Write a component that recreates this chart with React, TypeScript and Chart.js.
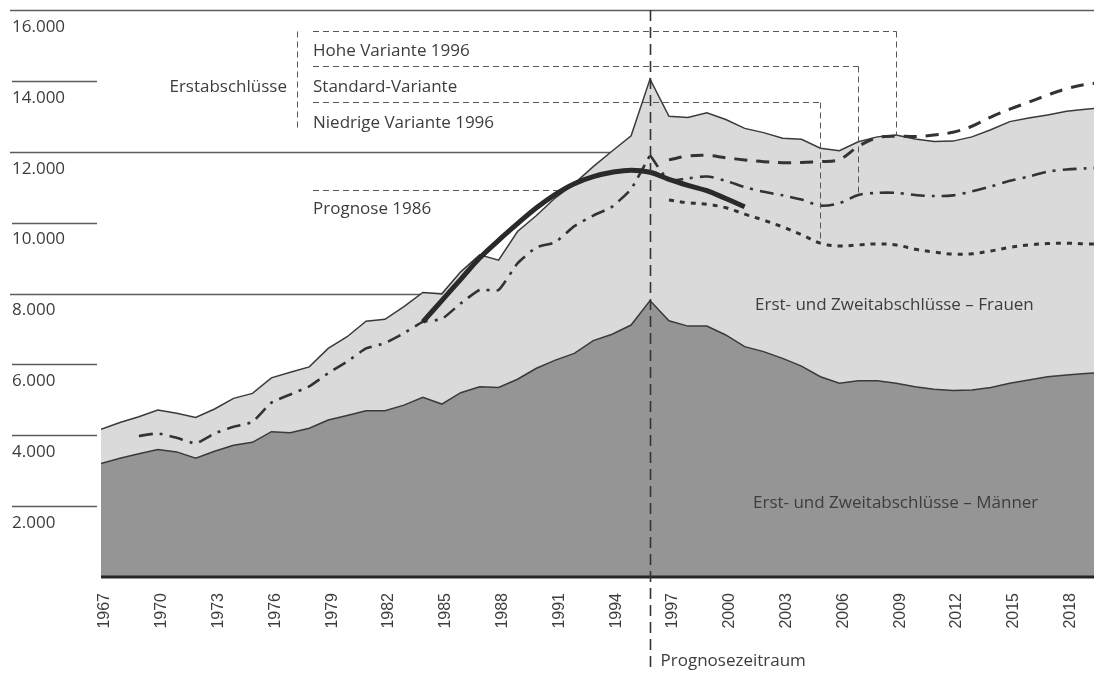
import React, { useEffect, useRef } from "react";
import { Chart, registerables } from "chart.js";

Chart.register(...registerables);

// ---------- data ----------
const FIRST_YEAR = 1967;
const YEARS: number[] = Array.from({ length: 54 }, (_, i) => FIRST_YEAR + i); // 1967..2020

const X_TICKS = [1967, 1970, 1973, 1976, 1979, 1982, 1985, 1988, 1991, 1994, 1997, 2000, 2003, 2006, 2009, 2012, 2015, 2018];
const Y_TICKS = [2000, 4000, 6000, 8000, 10000, 12000, 14000, 16000];
const FULL_GRID = [8000, 12000, 16000];
const SHORT_GRID = [2000, 4000, 6000, 10000, 14000];
const PROGNOSE_START = 1996;

// Erst- und Zweitabschlüsse – Männer (1967–2020)
const MAENNER = [
  3200, 3350, 3480, 3600, 3530, 3350, 3550, 3720, 3800, 4100,
  4070, 4200, 4430, 4560, 4690, 4690, 4850, 5070, 4880, 5200,
  5370, 5350, 5580, 5890, 6120, 6310, 6670, 6850, 7110, 7800,
  7230, 7080, 7080, 6830, 6500, 6360, 6170, 5950, 5650, 5470,
  5540, 5540, 5470, 5370, 5300, 5260, 5280, 5350, 5470, 5560,
  5650, 5700, 5740, 5780,
];

// Erst- und Zweitabschlüsse insgesamt (Männer + Frauen) (1967–2020)
const GESAMT = [
  4170, 4360, 4520, 4710, 4620, 4500, 4740, 5040, 5180, 5620,
  5780, 5930, 6450, 6780, 7220, 7270, 7630, 8030, 7990, 8610,
  9090, 8940, 9750, 10200, 10700, 11100, 11580, 12020, 12450, 14050,
  13000, 12970, 13100, 12910, 12660, 12540, 12380, 12350, 12100, 12030,
  12280, 12420, 12470, 12360, 12290, 12300, 12420, 12620, 12850, 12950,
  13040, 13140, 13200, 13250,
];

// Erstabschlüsse, Ist (1969–1996)
const ERST_IST_START = 1969;
const ERST_IST = [
  3980, 4050, 3930, 3770, 4050, 4240, 4380, 4920, 5150, 5380,
  5750, 6080, 6450, 6600, 6880, 7200, 7280, 7720, 8100, 8100,
  8850, 9300, 9450, 9900, 10200, 10450, 10950, 11900,
];

// Standard-Variante (1996–2020)
const STANDARD_START = 1996;
const STANDARD = [
  11900, 11220, 11250, 11300, 11180, 11000, 10870, 10770, 10650, 10480,
  10550, 10780, 10840, 10840, 10780, 10750, 10770, 10880, 11020, 11180,
  11300, 11440, 11500, 11530, 11550,
];

// Hohe Variante 1996 (1997–2020)
const HOHE_START = 1997;
const HOHE = [
  11770, 11880, 11900, 11830, 11770, 11720, 11690, 11700, 11720, 11780,
  12150, 12400, 12440, 12430, 12470, 12550, 12720, 12980, 13200, 13400,
  13600, 13780, 13900, 13950,
];

// Niedrige Variante 1996 (1997–2020)
const NIEDRIG_START = 1997;
const NIEDRIG = [
  10640, 10560, 10520, 10420, 10240, 10070, 9880, 9660, 9420, 9340,
  9370, 9400, 9370, 9250, 9170, 9110, 9120, 9200, 9300, 9370,
  9410, 9420, 9400, 9400,
];

// Prognose 1986 (1984–2001)
const PROG86_START = 1984;
const PROG86 = [
  7200, 7800, 8400, 9000, 9500, 9970, 10420, 10800, 11100, 11300,
  11420, 11480, 11420, 11220, 11050, 10900, 10680, 10450,
];

// years at which the legend leaders touch the lines
const HOHE_MARK = 2009;
const STANDARD_MARK = 2007;
const NIEDRIG_MARK = 2005;
const PROG86_MARK = 1991.3;

// ---------- helpers ----------
const align = (start: number, values: number[]) =>
  YEARS.map((yr) => {
    const i = yr - start;
    return i >= 0 && i < values.length ? values[i] : null;
  });
const pts = (arr: (number | null)[]) => YEARS.map((yr, i) => ({ x: yr, y: arr[i] }));
const valueAt = (start: number, values: number[], yr: number) => values[yr - start];
const fmt = (v: number) => String(v).replace(/\B(?=(\d{3})+(?!\d))/g, ".");

const INK = "#333333";
const TEXT = "#3d3d3d";
const FONT = '"Open Sans", sans-serif';

const decorBehind = {
  id: "decorBehind",
  beforeDatasetsDraw(chart: any) {
    const { ctx, chartArea } = chart;
    const ys = chart.scales.y;
    const xs = chart.scales.x;
    ctx.save();
    ctx.strokeStyle = "#5c5c5c";
    ctx.lineWidth = 1.3;
    FULL_GRID.forEach((v) => {
      const py = Math.round(ys.getPixelForValue(v)) + 0.5;
      ctx.beginPath();
      ctx.moveTo(10, py);
      ctx.lineTo(chartArea.right, py);
      ctx.stroke();
    });
    SHORT_GRID.forEach((v) => {
      const py = Math.round(ys.getPixelForValue(v)) + 0.5;
      ctx.beginPath();
      ctx.moveTo(12, py);
      ctx.lineTo(97, py);
      ctx.stroke();
    });
    // Prognose 1986 leader
    ctx.strokeStyle = "#555";
    ctx.lineWidth = 1;
    ctx.setLineDash([6, 4]);
    ctx.beginPath();
    ctx.moveTo(313, 190.5);
    ctx.lineTo(xs.getPixelForValue(PROG86_MARK), 190.5);
    ctx.stroke();
    ctx.restore();
  },
};

const decorFront = {
  id: "decorFront",
  afterDatasetsDraw(chart: any) {
    const { ctx, chartArea, height } = chart;
    const ys = chart.scales.y;
    const xs = chart.scales.x;
    ctx.save();
    // base line
    const y0 = ys.getPixelForValue(0);
    ctx.strokeStyle = "#262626";
    ctx.lineWidth = 3;
    ctx.beginPath();
    ctx.moveTo(chartArea.left, y0);
    ctx.lineTo(chartArea.right, y0);
    ctx.stroke();

    // Prognose start line
    const px = Math.round(xs.getPixelForValue(PROGNOSE_START)) + 0.5;
    ctx.strokeStyle = INK;
    ctx.lineWidth = 1.6;
    ctx.setLineDash([11, 6]);
    ctx.beginPath();
    ctx.moveTo(px, ys.getPixelForValue(16000));
    ctx.lineTo(px, height);
    ctx.stroke();

    // legend bracket and leaders
    ctx.strokeStyle = "#555";
    ctx.lineWidth = 1;
    ctx.setLineDash([6, 4]);
    const seg = (x1: number, y1: number, x2: number, y2: number) => {
      ctx.beginPath();
      ctx.moveTo(x1, y1);
      ctx.lineTo(x2, y2);
      ctx.stroke();
    };
    seg(297.5, 31.5, 297.5, 131.5);
    const leader = (yy: number, yr: number, val: number) => {
      const lx = Math.round(xs.getPixelForValue(yr)) + 0.5;
      seg(313, yy, lx, yy);
      seg(lx, yy, lx, ys.getPixelForValue(val));
    };
    leader(31.5, HOHE_MARK, valueAt(HOHE_START, HOHE, HOHE_MARK));
    leader(66.5, STANDARD_MARK, valueAt(STANDARD_START, STANDARD, STANDARD_MARK));
    leader(102.5, NIEDRIG_MARK, valueAt(NIEDRIG_START, NIEDRIG, NIEDRIG_MARK));

    // texts
    ctx.setLineDash([]);
    ctx.fillStyle = TEXT;
    ctx.font = `17px ${FONT}`;
    ctx.textBaseline = "middle";
    ctx.textAlign = "right";
    ctx.fillText("Erstabschlüsse", 287, 87);
    ctx.textAlign = "left";
    ctx.fillText("Hohe Variante 1996", 313, 51);
    ctx.fillText("Standard-Variante", 313, 87);
    ctx.fillText("Niedrige Variante 1996", 313, 123);
    ctx.fillText("Prognose 1986", 313, 209);
    ctx.fillText("Erst- und Zweitabschlüsse – Frauen", 755, 305);
    ctx.fillText("Erst- und Zweitabschlüsse – Männer", 753, 503);
    ctx.fillText("Prognosezeitraum", px + 10, 661);
    ctx.restore();
  },
};

export default function App() {
  const ref = useRef<HTMLCanvasElement | null>(null);

  useEffect(() => {
    if (!ref.current) return;
    const lineBase = { pointRadius: 0, pointHoverRadius: 0, fill: false, spanGaps: false };
    const chart = new Chart(ref.current, {
      type: "line",
      data: {
        datasets: [
          {
            ...lineBase,
            label: "Prognose 1986",
            data: pts(align(PROG86_START, PROG86)),
            borderColor: "#2a2a2a",
            borderWidth: 5,
            tension: 0.4,
            order: 1,
          },
          {
            ...lineBase,
            label: "Hohe Variante 1996",
            data: pts(align(HOHE_START, HOHE)),
            borderColor: INK,
            borderWidth: 3,
            borderDash: [13, 9],
            tension: 0.35,
            order: 2,
          },
          {
            ...lineBase,
            label: "Standard-Variante",
            data: pts(align(STANDARD_START, STANDARD)),
            borderColor: INK,
            borderWidth: 2.6,
            borderDash: [14, 7, 3, 7],
            tension: 0.3,
            order: 2,
          },
          {
            ...lineBase,
            label: "Niedrige Variante 1996",
            data: pts(align(NIEDRIG_START, NIEDRIG)),
            borderColor: INK,
            borderWidth: 3,
            borderDash: [5, 6],
            tension: 0.35,
            order: 2,
          },
          {
            ...lineBase,
            label: "Erstabschlüsse",
            data: pts(align(ERST_IST_START, ERST_IST)),
            borderColor: INK,
            borderWidth: 2.6,
            borderDash: [14, 7, 3, 7],
            tension: 0.15,
            order: 2,
          },
          {
            label: "Erst- und Zweitabschlüsse – Männer",
            data: pts(MAENNER),
            borderColor: "#3a3a3a",
            borderWidth: 1.5,
            backgroundColor: "#959595",
            fill: "origin",
            pointRadius: 0,
            tension: 0,
            order: 5,
          },
          {
            label: "Erst- und Zweitabschlüsse – Frauen",
            data: pts(GESAMT),
            borderColor: "#3a3a3a",
            borderWidth: 1.5,
            backgroundColor: "#dadada",
            fill: "origin",
            pointRadius: 0,
            tension: 0,
            order: 6,
          },
        ],
      },
      options: {
        animation: false,
        responsive: false,
        devicePixelRatio: 1,
        layout: { padding: { top: 10, left: 12, right: 0, bottom: 0 } },
        plugins: { legend: { display: false }, tooltip: { enabled: false } },
        events: [],
        scales: {
          x: {
            type: "linear",
            min: FIRST_YEAR,
            max: 2019.45,
            afterBuildTicks: (s: any) => {
              s.ticks = X_TICKS.map((v) => ({ value: v }));
            },
            afterFit: (s: any) => {
              s.height = 96;
              s.paddingLeft = 0;
              s.paddingRight = 0;
            },
            ticks: {
              autoSkip: false,
              minRotation: 90,
              maxRotation: 90,
              padding: 16,
              labelOffset: 4,
              color: TEXT,
              font: { family: '"Liberation Sans", Arial, sans-serif', size: 16 },
              callback: (v: any) => String(v),
            },
            grid: { display: false, drawTicks: false },
            border: { display: false },
          },
          y: {
            type: "linear",
            min: 0,
            max: 16000,
            afterBuildTicks: (s: any) => {
              s.ticks = Y_TICKS.map((v) => ({ value: v }));
            },
            afterFit: (s: any) => {
              s.width = 89;
              s.paddingTop = 0;
              s.paddingBottom = 0;
            },
            ticks: {
              crossAlign: "far",
              labelOffset: 17,
              padding: 0,
              color: TEXT,
              font: { family: FONT, size: 17 },
              callback: (v: any) => fmt(Number(v)),
            },
            grid: { display: false, drawTicks: false },
            border: { display: false },
          },
        },
      },
      plugins: [decorBehind, decorFront],
    } as any);
    return () => chart.destroy();
  }, []);

  return (
    <div style={{ position: "fixed", left: 0, top: 0, width: 1094, height: 673, background: "#fff" }}>
      <canvas ref={ref} width={1094} height={673} style={{ display: "block", width: 1094, height: 673 }} />
    </div>
  );
}
